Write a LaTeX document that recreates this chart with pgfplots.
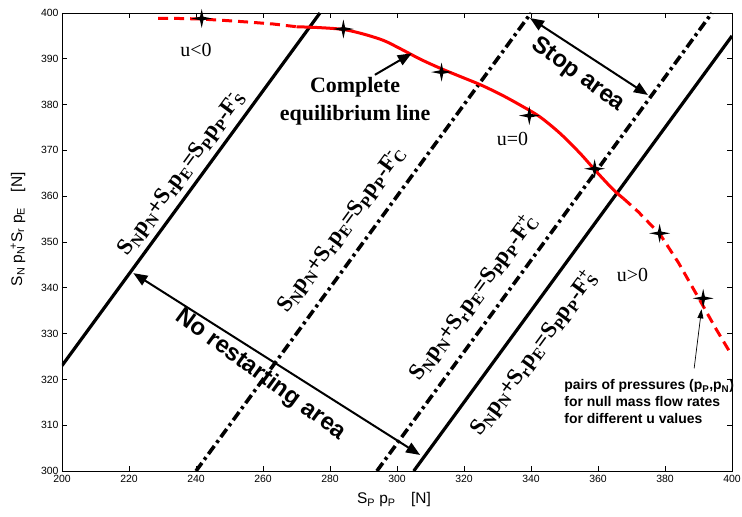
\documentclass[border=0pt]{standalone}
\usepackage{pgfplots}
\pgfplotsset{compat=1.18}
\usepackage{fontspec}
\setmainfont{Liberation Sans}
\newfontfamily\tnr{Liberation Serif}
\usetikzlibrary{arrows.meta}

\pgfdeclareplotmark{fourstar}{%
  \pgfpathmoveto{\pgfqpoint{0pt}{\pgfplotmarksize}}%
  \pgfpathlineto{\pgfqpoint{0.18\pgfplotmarksize}{0.18\pgfplotmarksize}}%
  \pgfpathlineto{\pgfqpoint{1.1\pgfplotmarksize}{0pt}}%
  \pgfpathlineto{\pgfqpoint{0.18\pgfplotmarksize}{-0.18\pgfplotmarksize}}%
  \pgfpathlineto{\pgfqpoint{0pt}{-\pgfplotmarksize}}%
  \pgfpathlineto{\pgfqpoint{-0.18\pgfplotmarksize}{-0.18\pgfplotmarksize}}%
  \pgfpathlineto{\pgfqpoint{-1.1\pgfplotmarksize}{0pt}}%
  \pgfpathlineto{\pgfqpoint{-0.18\pgfplotmarksize}{0.18\pgfplotmarksize}}%
  \pgfpathclose
  \pgfusepathqfill}

\newcommand\eqlab[2]{{\tnr\bfseries S\textsubscript{N}p\textsubscript{N}+S\textsubscript{r}p\textsubscript{E}=S\textsubscript{P}p\textsubscript{P}-F\rlap{\textsubscript{#1}}\textsuperscript{#2}}}

\pgfplotstableread{
x y
228.7 398.8
235 398.8
241 398.7
248 398.4
256 398.0
263 397.6
270 397.0
}\redA
\pgfplotstableread{
x y
270 397.0
277 396.8
284 396.4
290 395.4
296 394.0
301 392.2
307 389.9
313 387.9
319 386.1
325 384.3
331 382.2
337 379.8
342.7 377.3
348.7 373.7
354.6 369.4
359.6 365.3
364.6 361.4
367.6 359.5
}\redB
\pgfplotstableread{
x y
367.6 359.5
372 356.6
378.5 351.7
384 345.5
390.4 337.3
395 331.3
399.5 325.8
}\redC
\pgfplotstableread{
x y
241.7 398.8
284.0 396.5
313.3 387.1
339.5 377.6
359.0 366.0
378.4 351.9
391.4 337.7
}\stars

\begin{document}
\begin{tikzpicture}
\path[use as bounding box] (-62bp,-46bp) rectangle (680bp,471bp);
\begin{axis}[
  at={(0,0)}, anchor=south west,
  scale only axis, width=670bp, height=458bp,
  xmin=200, xmax=400, ymin=300, ymax=400,
  xtick={200,220,...,400}, ytick={300,310,...,400},
  tick align=inside, major tick length=5bp,
  tick style={black, line width=0.6bp},
  axis line style={line width=0.8bp},
  ticklabel style={font=\fontsize{10.5}{12}\selectfont},
  xticklabel style={yshift=-1bp},
  /pgf/number format/assume math mode=true,
  clip mode=individual,
  xlabel={S\textsubscript{P} p\textsubscript{P}\quad [N]},
  ylabel={S\textsubscript{N} p\textsubscript{N}\kern-0.2em\textsuperscript{+}S\textsubscript{r} p\textsubscript{E}\quad [N]},
  xlabel style={at={(axis description cs:0.4955,-0.0633)}, anchor=center, font=\fontsize{15.5}{18}\selectfont},
  ylabel style={at={(axis description cs:-0.0657,0.528)}, anchor=center, font=\fontsize{15.5}{18}\selectfont},
]
% boundary lines
\addplot[black, line width=3.2bp] coordinates {(200,323) (277,400)};
\addplot[black, line width=3.6bp, dash pattern=on 10bp off 4bp on 3bp off 4bp] coordinates {(240,300) (340,400)};
\addplot[black, line width=3.6bp, dash pattern=on 10bp off 4bp on 3bp off 4bp] coordinates {(294,300) (394,400)};
\addplot[black, line width=3.2bp] coordinates {(305,300) (400,395)};
% equilibrium curve
\addplot[red, line width=3bp, dash pattern=on 10bp off 6bp] table[x=x,y=y] {\redA};
\addplot[red, line width=3bp, smooth] table[x=x,y=y] {\redB};
\addplot[red, line width=3bp, dash pattern=on 10bp off 6bp] table[x=x,y=y] {\redC};
% star marks
\addplot[only marks, mark=fourstar, mark size=9.5bp, black] table[x=x,y=y] {\stars};

% line labels
\node[rotate=53.8, font=\fontsize{23}{27}\selectfont] at (axis cs:235.5,364.6) {\eqlab{S}{-}};
\node[rotate=53.8, font=\fontsize{23}{27}\selectfont] at (axis cs:283.0,352.0) {\eqlab{C}{-}};
\node[rotate=53.8, font=\fontsize{23}{27}\selectfont] at (axis cs:322.5,337.7) {\eqlab{C}{+}};
\node[rotate=53.8, font=\fontsize{23}{27}\selectfont] at (axis cs:340.7,325.7) {\eqlab{S}{+}};

% u labels
\node[font=\tnr\fontsize{20}{24}\selectfont] at (axis cs:240.0,392.0) {u<0};
\node[font=\tnr\fontsize{20}{24}\selectfont] at (axis cs:334.5,372.6) {u=0};
\node[font=\tnr\fontsize{20}{24}\selectfont] at (axis cs:370.3,342.8) {u>0};

% complete equilibrium line
\node[anchor=base, font=\tnr\bfseries\fontsize{22}{26}\selectfont] at (axis cs:287.5,382.6) {Complete};
\node[anchor=base, font=\tnr\bfseries\fontsize{22}{26}\selectfont] at (axis cs:287.5,376.5) {equilibrium line};
\draw[black, line width=2bp, -{Triangle[length=14bp,width=11bp]}] (axis cs:293.4,386.5) -- (axis cs:304.4,391.2);

% areas
\node[rotate=-36.2, font=\bfseries\fontsize{24}{28}\selectfont] at (axis cs:354.1,386.5) {Stop area};
\draw[black, line width=2bp, {Triangle[length=14bp,width=11bp]}-{Triangle[length=14bp,width=11bp]}] (axis cs:339.7,398.9) -- (axis cs:374.9,382.1);
\node[rotate=-36.2, font=\bfseries\fontsize{24}{28}\selectfont] at (axis cs:259.3,321.0) {No restarting area};
\draw[black, line width=2bp, {Triangle[length=14bp,width=11bp]}-{Triangle[length=14bp,width=11bp]}] (axis cs:221.3,343.2) -- (axis cs:306.9,303.5);

% pairs annotation
\draw[black, line width=0.7bp, -{Triangle[length=9bp,width=6bp]}] (axis cs:388.7,322.4) -- (axis cs:390.9,335.3);
\node[anchor=base west, inner sep=0pt, font=\bfseries\fontsize{14}{16}\selectfont] at (axis cs:349.9,317.7) {pairs of pressures (p\textsubscript{P},p\textsubscript{N})};
\node[anchor=base west, inner sep=0pt, font=\bfseries\fontsize{14}{16}\selectfont] at (axis cs:349.9,314.0) {for null mass flow rates};
\node[anchor=base west, inner sep=0pt, font=\bfseries\fontsize{14}{16}\selectfont] at (axis cs:349.9,310.4) {for different u values};
\end{axis}
\end{tikzpicture}
\end{document}
